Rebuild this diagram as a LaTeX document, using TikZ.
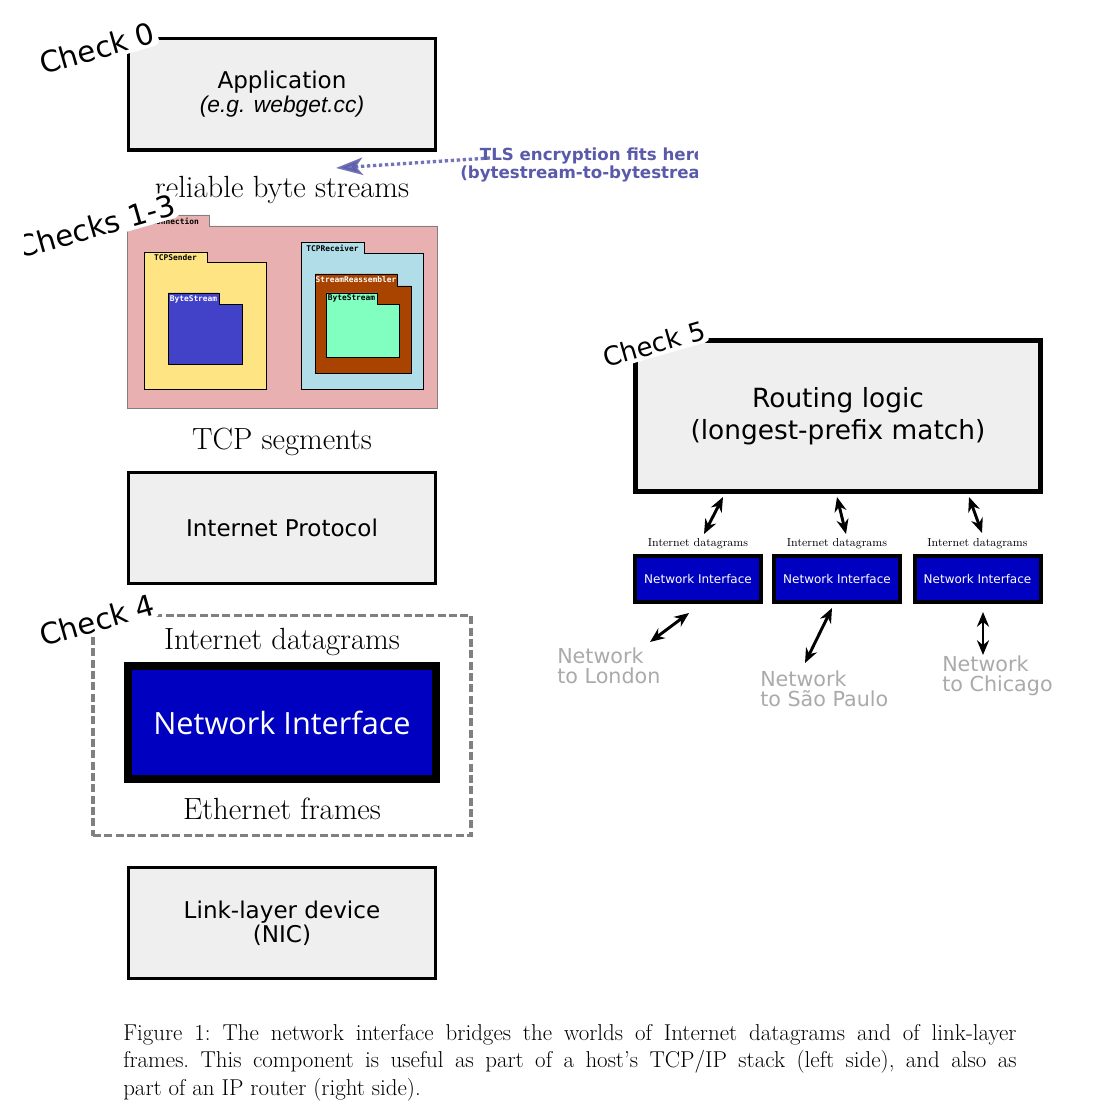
\documentclass[tikz,border=0pt]{standalone}
\usepackage{fontspec}
\usepackage{xcolor}
\usetikzlibrary{arrows.meta}
\newfontfamily\dejavu{DejaVu Sans}
\newfontfamily\dejavumono{DejaVu Sans Mono}
\newfontfamily\arialish{Liberation Sans}
\newfontfamily\opensans{Open Sans}
\definecolor{boxgray}{HTML}{EFEFEF}
\definecolor{nifill}{HTML}{0000C0}
\definecolor{pkpink}{HTML}{E8B0B0}
\definecolor{pkyellow}{HTML}{FFE484}
\definecolor{pkblue}{HTML}{4242C8}
\definecolor{pkcyan}{HTML}{B0DDE8}
\definecolor{pkbrown}{HTML}{A84300}
\definecolor{pkgreen}{HTML}{80FFC0}
\definecolor{tlscol}{HTML}{5A5AAA}
\definecolor{graytext}{HTML}{AAAAAA}
\definecolor{dashgray}{HTML}{808080}

\begin{document}
\begin{tikzpicture}[x=0.75pt, y=-0.75pt,
  layer/.style={draw, line width=2.6pt, fill=boxgray, minimum width=230pt, minimum height=83.6pt, align=center, font=\dejavu\fontsize{17.3}{18}\selectfont},
  routing/.style={draw, line width=3.75pt, fill=boxgray, minimum width=303.75pt, minimum height=113.25pt, align=center, font=\dejavu\fontsize{19.8}{24}\selectfont},
  nibig/.style={draw, line width=5.6pt, fill=nifill, text=white, minimum width=231pt, minimum height=84.75pt, font=\opensans\fontsize{23}{27}\selectfont},
  nismall/.style={draw, line width=3pt, fill=nifill, text=white, minimum width=94.5pt, minimum height=34.5pt, font=\dejavu\fontsize{9}{11}\selectfont},
  ckframe/.style={draw=dashgray, line width=2.3pt, dash pattern=on 6pt off 2.5pt, minimum width=283.5pt, minimum height=165pt},
  check/.style={font=\dejavu\fontsize{22}{26}\selectfont, fill=white, rotate=16, inner sep=2pt, rounded corners=4pt},
  lbl/.style={font=\fontsize{23}{26}\selectfont, inner sep=0, anchor=base},
  dgram/.style={font=\fontsize{8.7}{10}\selectfont, inner sep=0, anchor=base},
  netlbl/.style={text=graytext, align=left, font=\dejavu\fontsize{15.5}{15}\selectfont, inner sep=0, anchor=north west},
  biarrow/.style={{Stealth[length=11pt,width=9pt]}-{Stealth[length=11pt,width=9pt]}, line width=2.2pt},
  tlsarrow/.style={draw=tlscol, opacity=.85, line width=2.5pt, dash pattern=on 2.5pt off 2pt, -{Stealth[length=20pt,width=13pt,inset=5pt]}},
  pkg/.style={draw=black, line width=0.6pt},
  pkglabel/.style={font=\dejavumono\bfseries\fontsize{5.9}{6}\selectfont, inner sep=0}]
\useasboundingbox (0,0) rectangle (1110,1112);

% host stack
\node[layer] (app) at (282,94.5) {Application\\{\arialish\itshape\fontsize{17.1}{18}\selectfont (e.g. webget.cc)}};
\node[lbl] (rbs) at (282,198) {reliable byte streams};

% TCPConnection and its parts
\draw[pkg, draw=black!50, fill=pkpink] (127,215) -- (209,215) -- (209,226) -- (437,226) -- (437,408) -- (127,408) -- cycle;
\node[pkglabel] (conn) at (168,221) {TCPConnection};
\draw[pkg, fill=pkyellow] (144,252) -- (207,252) -- (207,262) -- (266,262) -- (266,389) -- (144,389) -- cycle;
\node[pkglabel] (sender) at (175.5,257.5) {TCPSender};
\draw[pkg, fill=pkblue] (168,293) -- (219,293) -- (219,304) -- (242,304) -- (242,364) -- (168,364) -- cycle;
\node[pkglabel, text=white] (sendbuf) at (193.5,299) {ByteStream};
\draw[pkg, fill=pkcyan] (301,242) -- (364,242) -- (364,253) -- (423,253) -- (423,389) -- (301,389) -- cycle;
\node[pkglabel] (receiver) at (332.5,248) {TCPReceiver};
\draw[pkg, fill=pkbrown] (315,274) -- (397,274) -- (397,286) -- (411,286) -- (411,373) -- (315,373) -- cycle;
\node[pkglabel, text=white] (reasm) at (356,280) {StreamReassembler};
\draw[pkg, fill=pkgreen] (326,293) -- (377,293) -- (377,304) -- (399,304) -- (399,357) -- (326,357) -- cycle;
\node[pkglabel] (recvbuf) at (351.5,298.5) {ByteStream};

\node[lbl] (segs) at (282,449) {TCP segments};
\node[layer] (ip) at (282,528) {Internet Protocol};

% check 4 frame
\node[ckframe] (ck4) at (282,725.5) {};
\node[lbl] (dgrams) at (282,649) {Internet datagrams};
\node[nibig] (ni) at (282,722.5) {Network Interface};
\node[lbl] (frames) at (282,819) {Ethernet frames};
\node[layer] (nic) at (282,923) {Link-layer device\\(NIC)};

% TLS note
\begin{scope}
\clip (0,0) rectangle (697,1112);
\node[anchor=west, inner sep=0, align=center, text=tlscol, font=\dejavu\bfseries\fontsize{12.5}{13}\selectfont] (tls) at (460,165) {TLS encryption fits here\\(bytestream-to-bytestream)};
\end{scope}
\coordinate (tlsa) at (490,158);
\coordinate (tlsb) at (336,168);
\draw[tlsarrow] (tlsa) -- (tlsb);

% router
\node[routing] (router) at (838,416) {Routing logic\\(longest-prefix match)};
\node[nismall] (ni1) at (698,579) {Network Interface};
\node[nismall] (ni2) at (837,579) {Network Interface};
\node[nismall] (ni3) at (977.5,579) {Network Interface};
\node[dgram] (dg1) at (698,546) {Internet datagrams};
\node[dgram] (dg2) at (837,546) {Internet datagrams};
\node[dgram] (dg3) at (977.5,546) {Internet datagrams};

\coordinate (rt1) at (723,497); \coordinate (rb1) at (704,534);
\coordinate (rt2) at (837,497); \coordinate (rb2) at (846,534);
\coordinate (rt3) at (969,497); \coordinate (rb3) at (982,533);
\draw[biarrow] (rt1) -- (rb1);
\draw[biarrow] (rt2) -- (rb2);
\draw[biarrow] (rt3) -- (rb3);

\node[netlbl] (london) at (557,648) {Network\\to London};
\node[netlbl] (saopaulo) at (760,671) {Network\\to São Paulo};
\node[netlbl] (chicago) at (942,656) {Network\\to Chicago};
\coordinate (lt1) at (689,613); \coordinate (lb1) at (650,642);
\coordinate (lt2) at (832,608); \coordinate (lb2) at (805,663);
\coordinate (lt3) at (983,612); \coordinate (lb3) at (983,655);
\draw[biarrow] (lt1) -- (lb1);
\draw[biarrow] (lt2) -- (lb2);
\draw[biarrow] (lt3) -- (lb3);

% check labels
\node[check] (c0) at (97,48) {Check 0};
\begin{scope}
\clip (24,0) rectangle (1110,1112);
\node[check] (c13) at (96,226) {Checks 1-3};
\end{scope}
\node[check] (c4) at (97,620) {Check 4};
\node[check, font=\dejavu\fontsize{19.5}{22}\selectfont] (c5) at (654,344) {Check 5};

% caption
\node[anchor=north west, inner sep=0, text width=670pt, align=justify, font=\fontsize{17.2}{20.7}\selectfont\frenchspacing] (cap) at (123,1024) {Figure 1: The network interface bridges the worlds of Internet datagrams and of link-layer\linebreak frames. This component is useful as part of a host's TCP/IP stack (left side), and also as\linebreak part of an IP router (right side).};
\end{tikzpicture}
\end{document}
